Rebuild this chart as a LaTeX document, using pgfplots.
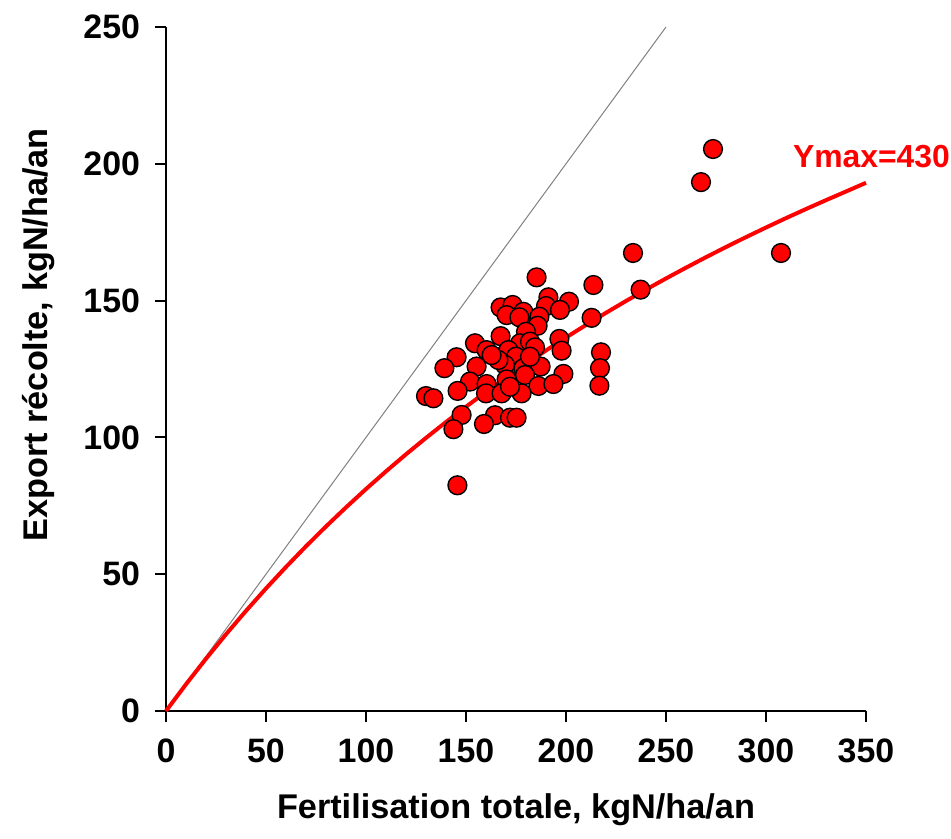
\documentclass[border=0pt]{standalone}
\usepackage{pgfplots}
\pgfplotsset{compat=1.18}
\usepackage{fontspec}
\setmainfont{Liberation Sans}
\begin{document}
\begin{tikzpicture}
\begin{axis}[
  scale only axis, width=350bp, height=342bp,
  xmin=0, xmax=350, ymin=0, ymax=250,
  axis x line=bottom, axis y line=left,
  axis line style={-, line width=1.1pt},
  tick style={line width=1.1pt, black},
  tick align=outside, major tick length=5.5bp,
  xtick={0,50,...,350}, ytick={0,50,...,250},
  ticklabel style={font=\fontsize{17}{20}\selectfont\bfseries},
  /pgf/number format/assume math mode=true,
  xticklabel style={yshift=-5bp},
  yticklabel style={xshift=-4bp},
  xlabel={Fertilisation totale, kgN/ha/an},
  ylabel={Export récolte, kgN/ha/an},
  label style={font=\fontsize{17.2}{20}\selectfont\bfseries},
  xlabel style={at={(axis description cs:0.5,0)}, anchor=north, yshift=-38bp},
  ylabel style={at={(axis description cs:0,0.55)}, anchor=south, yshift=52bp},
  clip=false,
]
\addplot[gray, line width=0.5pt] coordinates {(0,0) (250,250)};
\addplot[red, line width=2pt] coordinates {
(0,0) (10,9.77) (20,19.11) (30,28.04) (40,36.60) (50,44.79) (60,52.65) (70,60.2)
(80,67.45) (90,74.42) (100,81.13) (110,87.59) (120,93.82) (130,99.82) (140,105.61)
(150,111.21) (160,116.61) (170,121.83) (180,126.89) (190,131.77) (200,136.51)
(210,141.09) (220,145.54) (230,149.85) (240,154.03) (250,158.09) (260,162.03)
(270,165.86) (280,169.58) (290,173.19) (300,176.71) (310,180.14) (320,183.47)
(330,186.71) (340,189.87) (350,193.06)};
\addplot[only marks, mark=*, mark size=4.7bp, mark options={fill=red, draw=black, line width=0.7pt}] coordinates {
(273.5,205.4) (267.5,193.3) (307.5,167.4) (233.5,167.4) (213.7,155.7) (237.3,154.0)
(185.3,158.5) (191.2,151.2) (201.5,149.6) (190,148) (197,146.6) (167.3,147.5)
(173.3,148.4) (178.7,145.9) (170.3,144.7) (176.7,143.9) (186.7,144.1) (185.8,140.8)
(212.8,143.7) (180,138.6) (167.3,137) (196.7,136) (177,134.4) (182,135) (184.5,132.9)
(197.8,131.7) (217.5,131.1) (154.5,134.4) (160.3,131.9) (164.5,129.5) (171.2,131.9)
(175,129.5) (145.3,129.3) (139.2,125.3) (155.3,125.9) (169.5,126.5) (178.7,125.3)
(187.3,125.9) (198.7,123.2) (217,125.3) (179.5,122.8) (152,120.4) (160.3,119.5)
(170.3,121.2) (186.2,118.8) (193.7,119.5) (216.7,118.9) (145.8,117) (160,116.1)
(167.8,116.1) (177.8,116.1) (130,115.1) (133.7,114.3) (147.8,108.2) (164.5,108.1)
(172,107.2) (175.3,107.2) (143.7,103) (159,104.9) (145.7,82.5)
(166.2,128.3) (182,129.5) (162.8,130.1) (172,118.5)
};
\node[anchor=west, text=red, font=\fontsize{16}{19}\selectfont\bfseries] at (axis cs:310,202.5) {Ymax=430};
\end{axis}
\pgfresetboundingbox
\path (-83bp,-64bp) rectangle (392.5bp,355.5bp);
\end{tikzpicture}
\end{document}
